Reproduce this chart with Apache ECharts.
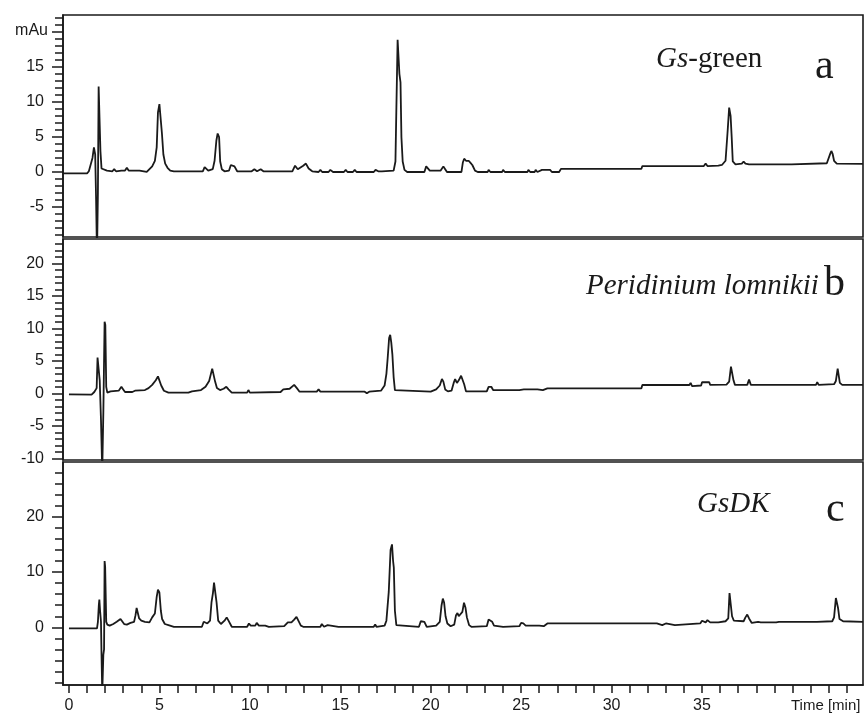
<!DOCTYPE html>
<html>
<head>
<meta charset="utf-8">
<script src="https://cdn.jsdelivr.net/npm/echarts@6/dist/echarts.min.js"></script>
<style>
  html, body { margin: 0; padding: 0; background: #fff; }
  #chart { width: 866px; height: 714px; }
</style>
</head>
<body>
<div id="chart"></div>
<script>
// chromatograms, [time (min), absorbance (mAu)]
const traceA = [[-0.33,-0.2],[1.0,-0.2],[1.1,0.1],[1.2,-0.1],[1.3,2.0],[1.38,3.5],[1.45,2.5],[1.5,-4],[1.55,-12],[1.6,-3],[1.64,12.2],[1.68,12.2],[1.74,3],[1.8,0.5],[1.9,0.3],[2.1,0.2],[2.4,0.1],[2.5,0.4],[2.6,0.1],[2.9,0.2],[3.0,0.4],[3.1,0.2],[3.2,0.6],[3.3,0.2],[3.9,0.2],[4.0,0.0],[4.3,0.0],[4.4,0.2],[4.6,0.8],[4.75,1.6],[4.85,3.5],[4.92,8.5],[5.0,9.7],[5.08,9.5],[5.14,5.5],[5.22,2.5],[5.32,1.2],[5.45,0.6],[5.6,0.2],[5.8,0.1],[7.4,0.1],[7.5,0.7],[7.6,0.7],[7.7,0.2],[7.95,0.4],[8.05,1.6],[8.15,4.5],[8.22,5.5],[8.3,5.0],[8.36,1.5],[8.45,0.4],[8.6,0.1],[8.85,0.2],[8.95,1.0],[9.05,1.2],[9.15,0.8],[9.3,0.1],[10.1,0.1],[10.25,0.4],[10.4,0.1],[10.6,0.4],[10.75,0.1],[12.35,0.1],[12.5,0.9],[12.65,0.4],[12.75,0.3],[12.95,0.9],[13.1,1.2],[13.25,0.5],[13.45,0.1],[13.8,0.0],[13.9,0.3],[14.0,0.0],[14.35,0.0],[14.45,0.3],[14.6,0.0],[15.2,0.0],[15.3,0.3],[15.4,0.0],[15.7,0.0],[15.8,0.3],[15.9,0.0],[16.85,0.0],[16.95,0.3],[17.1,0.1],[17.2,-0.1],[17.3,0.1],[17.95,0.2],[18.05,1.5],[18.1,8.9],[18.17,18.9],[18.22,19.0],[18.27,14],[18.33,12.8],[18.38,5],[18.45,1.5],[18.55,0.3],[18.7,0.0],[19.65,0.0],[19.75,0.8],[19.85,0.8],[19.95,0.2],[20.05,0.0],[20.55,0.2],[20.7,0.8],[20.8,0.4],[20.9,0.0],[21.7,0.0],[21.78,1.4],[21.85,1.9],[21.95,1.6],[22.1,1.6],[22.2,1.3],[22.3,1.0],[22.45,0.2],[22.6,0.0],[23.15,0.0],[23.2,0.3],[23.3,0.0],[23.95,0.0],[24.0,0.3],[24.1,0.0],[25.35,0.0],[25.4,0.3],[25.5,0.0],[25.75,0.0],[25.8,0.3],[25.9,0.0],[26.15,0.3],[26.6,0.3],[26.7,0.0],[26.95,0.0],[27.0,0.2],[27.1,0.0],[27.2,0.45],[30.35,0.45],[30.4,0.6],[30.45,0.45],[31.65,0.45],[31.7,0.85],[35.1,0.85],[35.2,1.2],[35.3,0.85],[35.9,0.9],[36.1,1.0],[36.3,1.6],[36.42,6],[36.5,9.2],[36.58,8],[36.64,5],[36.7,1.5],[36.85,1.1],[37.2,1.2],[37.3,1.5],[37.4,1.2],[37.6,1.1],[39.95,1.1],[40.0,1.25],[41.9,1.25],[42.0,1.5],[42.1,2.7],[42.15,3.0],[42.22,2.6],[42.3,1.6],[42.45,1.2],[43.9,1.15]];

const traceB = [[0,-0.15],[1.25,-0.2],[1.4,0.2],[1.53,0.8],[1.58,5.5],[1.66,5.6],[1.7,2],[1.77,-4.1],[1.84,-12],[1.9,-3],[1.97,11],[2.01,10.5],[2.06,1],[2.12,0.1],[2.3,0.3],[2.75,0.4],[2.9,1.0],[3.0,0.6],[3.1,0.2],[3.5,0.2],[3.65,0.4],[4.2,0.5],[4.4,0.8],[4.6,1.3],[4.8,2.0],[4.92,2.6],[5.0,2.4],[5.1,1.2],[5.25,0.4],[5.5,0.1],[6.6,0.1],[6.8,0.3],[7.3,0.5],[7.55,1.0],[7.75,1.9],[7.92,3.8],[8.0,3.6],[8.08,1.8],[8.18,0.8],[8.35,0.5],[8.55,0.7],[8.7,1.0],[8.82,0.6],[9.0,0.1],[9.85,0.1],[9.92,0.5],[10.0,0.1],[11.7,0.2],[11.85,0.6],[12.2,0.7],[12.45,1.3],[12.6,0.8],[12.75,0.25],[13.7,0.25],[13.8,0.6],[13.9,0.25],[14.65,0.25],[14.72,0.5],[14.8,0.25],[16.35,0.25],[16.47,0.0],[16.6,0.25],[17.25,0.4],[17.45,1.2],[17.55,3],[17.62,5.4],[17.7,8.5],[17.76,9.0],[17.82,7.8],[17.88,6],[17.95,2.5],[18.02,0.5],[18.1,0.25],[20.0,0.25],[20.3,0.6],[20.5,1.2],[20.62,2.2],[20.7,1.8],[20.8,0.6],[20.95,0.3],[21.15,0.4],[21.27,1.6],[21.35,2.2],[21.45,1.6],[21.55,2.0],[21.68,2.7],[21.75,2.6],[21.85,1.4],[21.95,0.3],[23.1,0.3],[23.2,1.0],[23.35,1.0],[23.45,0.5],[24.9,0.5],[25.0,0.8],[25.15,0.6],[25.65,0.6],[25.75,0.3],[25.9,0.6],[26.2,0.5],[26.3,0.3],[26.45,0.77],[31.65,0.77],[31.7,1.28],[34.3,1.28],[34.37,1.6],[34.45,1.1],[34.95,1.2],[35.0,1.7],[35.4,1.7],[35.45,1.3],[36.35,1.35],[36.5,1.8],[36.6,4.1],[36.68,4.1],[36.74,2.0],[36.82,1.3],[37.5,1.3],[37.6,2.1],[37.7,1.3],[41.3,1.3],[41.37,1.7],[41.45,1.3],[42.3,1.4],[42.4,1.9],[42.5,3.8],[42.55,3.6],[42.62,1.6],[42.75,1.3],[43.9,1.3]];

const traceC = [[0,-0.2],[1.55,-0.2],[1.6,1],[1.65,4],[1.68,5.0],[1.72,3],[1.77,1],[1.8,-5],[1.84,-12],[1.9,-5],[1.94,-4],[1.97,12.0],[2.0,11],[2.06,1],[2.12,0.5],[2.25,0.3],[2.45,0.6],[2.64,1.0],[2.75,1.0],[2.85,1.5],[2.95,1.5],[3.05,0.6],[3.2,0.5],[3.4,0.8],[3.6,1.0],[3.68,2.2],[3.74,3.5],[3.82,3.4],[3.88,1.6],[4.0,1.2],[4.2,1.0],[4.3,1.3],[4.45,0.9],[4.6,1.8],[4.75,2.5],[4.85,5.5],[4.92,6.8],[5.0,6.3],[5.08,3.0],[5.15,1.5],[5.3,0.6],[5.5,0.4],[5.8,0.1],[7.35,0.1],[7.45,1.0],[7.55,1.2],[7.65,0.7],[7.8,1.2],[7.88,4.5],[7.96,6.2],[8.02,8.1],[8.1,7.8],[8.16,4.5],[8.25,1.2],[8.4,0.6],[8.6,1.2],[8.72,1.8],[8.82,1.2],[9.0,0.1],[9.85,0.1],[9.95,0.7],[10.05,0.3],[10.3,0.3],[10.38,0.8],[10.5,0.3],[10.85,0.3],[10.95,0.4],[11.05,0.1],[11.9,0.2],[12.1,0.9],[12.3,0.9],[12.45,1.4],[12.58,1.9],[12.68,1.6],[12.82,0.3],[12.95,0.1],[13.9,0.1],[13.98,0.6],[14.1,0.1],[14.3,0.4],[14.4,0.1],[14.9,0.1],[15.0,0.4],[15.1,0.1],[15.6,0.1],[15.7,0.4],[15.8,0.1],[16.2,0.1],[16.3,0.4],[16.4,0.1],[16.85,0.1],[16.93,0.5],[17.0,0.1],[17.45,0.3],[17.55,1.2],[17.68,6.4],[17.78,14.0],[17.86,15.0],[17.92,12],[17.96,10.8],[18.02,3],[18.1,0.4],[18.2,0.1],[19.35,0.1],[19.45,1.1],[19.55,1.45],[19.65,1.0],[19.78,0.1],[20.3,0.3],[20.5,1.0],[20.6,4.0],[20.67,5.2],[20.74,4.5],[20.82,2.0],[20.92,0.7],[21.1,0.2],[21.3,0.5],[21.4,2.2],[21.48,2.6],[21.55,2.0],[21.65,1.8],[21.75,2.8],[21.84,4.45],[21.92,3.6],[22.0,1.8],[22.12,0.4],[22.25,0.1],[23.1,0.2],[23.2,1.4],[23.3,1.75],[23.4,1.0],[23.5,0.3],[24.0,0.1],[24.9,0.2],[25.0,0.8],[25.12,0.7],[25.25,0.3],[26.0,0.3],[26.1,0.5],[26.25,0.2],[26.35,0.5],[26.45,0.7],[32.2,0.7],[32.3,0.4],[32.5,0.7],[32.8,0.4],[33.0,0.7],[33.1,0.4],[33.5,0.4],[33.6,0.7],[34.9,0.7],[35.0,1.2],[35.2,0.9],[35.3,1.3],[35.45,0.9],[35.9,0.9],[36.0,1.2],[36.3,1.1],[36.45,1.6],[36.52,6.2],[36.6,6.0],[36.66,2.0],[36.76,1.2],[37.3,1.1],[37.4,1.8],[37.5,2.3],[37.6,1.6],[37.75,0.8],[37.85,1.0],[38.1,1.0],[38.15,1.3],[38.25,0.9],[39.1,0.9],[39.16,0.6],[39.25,1.0],[41.22,1.0],[41.28,1.3],[41.35,1.0],[42.2,1.1],[42.3,1.8],[42.4,5.3],[42.45,5.5],[42.52,3.5],[42.6,1.5],[42.8,1.1],[43.9,1.0]];

// axis ticks
const timeLabels = [0, 5, 10, 15, 20, 25, 30, 35];
const timeTicks = [0,1,2,3,4,5,6,7,8,9,10,11,12,13,14,15,16,17,18,19,20,21,22,23,24,25,26,27,28,29,30,31,32,33,34,35,36,37,38,39,40,41,42,43];
const ticksA = [-5, 0, 5, 10, 15, 20];
const labelsA = [-5, 0, 5, 10, 15];
const minorA = [-9,-8,-7,-6,-5,-4,-3,-2,-1,0,1,2,3,4,5,6,7,8,9,10,11,12,13,14,15,16,17,18,19,20,21,22];
const labelsB = [-10, -5, 0, 5, 10, 15, 20];
const minorB = [-10,-9,-8,-7,-6,-5,-4,-3,-2,-1,0,1,2,3,4,5,6,7,8,9,10,11,12,13,14,15,16,17,18,19,20,21,22,23];
const labelsC = [0, 10, 20];
const minorC = [-10,-8,-6,-4,-2,0,2,4,6,8,10,12,14,16,18,20,22,24,26,28];

const ink = '#1a1a1a';
const sans = 'Liberation Sans, Arial, sans-serif';
const serif = 'Liberation Serif, Times New Roman, serif';

let chart = echarts.init(document.getElementById('chart'));

const panels = [
  { top: 15, height: 222, min: -9.29, max: 22.43, ticks: ticksA, labels: labelsA, minor: minorA, data: traceA },
  { top: 239, height: 221, min: -10.26, max: 23.74, ticks: labelsB, labels: labelsB, minor: minorB, data: traceB },
  { top: 462, height: 223, min: -10.43, max: 29.9, ticks: labelsC, labels: labelsC, minor: minorC, data: traceC }
];

let grid = [], xAxis = [], yAxis = [], series = [];
panels.forEach((p, i) => {
  grid.push({
    left: 63, right: 3, top: p.top, height: p.height,
    show: true, borderColor: ink, borderWidth: 1.6, backgroundColor: 'transparent'
  });
  let last = i === 2;
  xAxis.push({
    type: 'value', gridIndex: i, min: -0.33, max: 43.9, position: 'bottom',
    axisLine: { show: last, onZero: false, lineStyle: { color: ink, width: 1.6 } },
    axisTick: { show: last, length: 8, customValues: timeTicks, lineStyle: { color: ink, width: 1.5 } },
    axisLabel: { show: last, customValues: timeLabels, margin: 13, color: ink, fontSize: 16, fontFamily: sans },
    splitLine: { show: false }
  });
  // major ticks and labels
  yAxis.push({
    type: 'value', gridIndex: i, min: p.min, max: p.max, position: 'left',
    axisLine: { show: true, onZero: false, lineStyle: { color: ink, width: 1.6 } },
    axisTick: { show: true, length: 11, customValues: p.ticks, lineStyle: { color: ink, width: 1.5 } },
    axisLabel: { customValues: p.labels, margin: 19, color: ink, fontSize: 16, fontFamily: sans },
    splitLine: { show: false }
  });
  // minor ticks
  yAxis.push({
    type: 'value', gridIndex: i, min: p.min, max: p.max, position: 'left',
    axisLine: { show: false, onZero: false },
    axisTick: { show: true, length: 8, customValues: p.minor, lineStyle: { color: ink, width: 1.5 } },
    axisLabel: { show: false },
    splitLine: { show: false }
  });
  series.push({
    type: 'line', xAxisIndex: i, yAxisIndex: i * 2, data: p.data,
    showSymbol: false, symbol: 'none', clip: true,
    lineStyle: { color: ink, width: 1.8 }
  });
});

let option = {
  animation: false,
  backgroundColor: '#fff',
  grid: grid,
  xAxis: xAxis,
  yAxis: yAxis,
  series: series,
  graphic: [
    { type: 'text', right: 818, top: 23, style: { text: 'mAu', fontFamily: sans, fontSize: 16, fill: ink } },
    { type: 'text', left: 656, top: 45, style: { text: '{i|Gs}{n|-green}', rich: {
      i: { fontFamily: serif, fontStyle: 'italic', fontSize: 29, fill: ink },
      n: { fontFamily: serif, fontSize: 29, fill: ink } } } },
    { type: 'text', left: 815, top: 46, style: { text: 'a', fontFamily: serif, fontSize: 42, fill: ink } },
    { type: 'text', left: 586, top: 272, style: { text: 'Peridinium lomnikii', fontFamily: serif, fontStyle: 'italic', fontSize: 29, fill: ink } },
    { type: 'text', left: 824, top: 263, style: { text: 'b', fontFamily: serif, fontSize: 42, fill: ink } },
    { type: 'text', left: 697, top: 490, style: { text: 'GsDK', fontFamily: serif, fontStyle: 'italic', fontSize: 29, fill: ink } },
    { type: 'text', left: 826, top: 489, style: { text: 'c', fontFamily: serif, fontSize: 42, fill: ink } },
    { type: 'text', left: 791, top: 698, style: { text: 'Time [min]', fontFamily: sans, fontSize: 15, fill: ink } }
  ]
};

chart.setOption(option);
</script>
</body>
</html>
